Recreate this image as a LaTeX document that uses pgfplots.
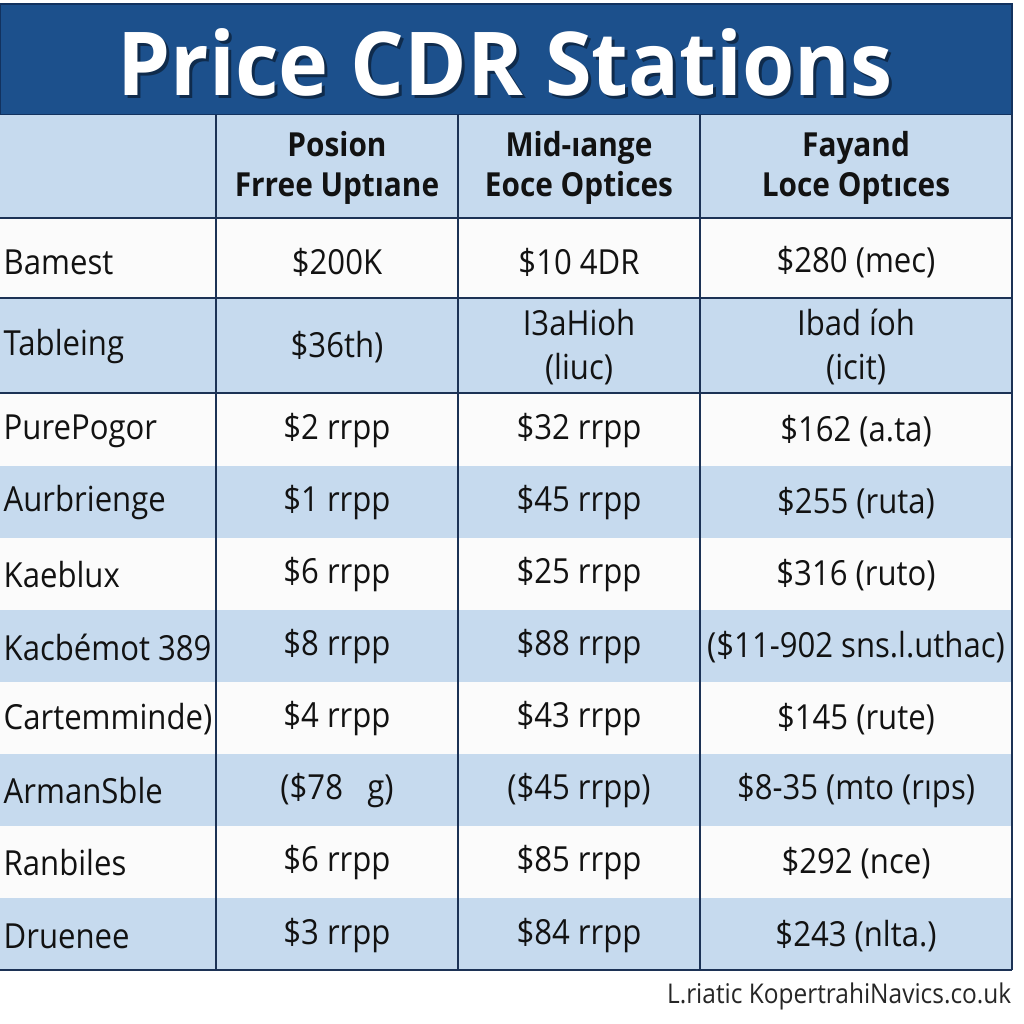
\documentclass[border=0pt]{standalone}
\usepackage{pgfplots}
\pgfplotsset{compat=1.18}
\usepackage{fontspec}
\setmainfont{Open Sans}[FakeStretch=0.9]
\newfontfamily\titlefont{Open Sans}[FakeStretch=0.96]
\definecolor{titlebg}{RGB}{28,80,140}
\definecolor{titleedge}{RGB}{18,50,95}
\definecolor{stripe}{RGB}{198,218,238}
\definecolor{rowwhite}{RGB}{251,251,251}
\definecolor{gridline}{RGB}{28,50,85}
\definecolor{txt}{RGB}{18,18,18}
\newcommand{\bodyfont}{\fontsize{9.6}{12.2}\selectfont}
\newcommand{\headfont}{\fontsize{9.2}{11.2}\selectfont\bfseries}
\begin{document}
\begin{tikzpicture}
\begin{axis}[scale only axis, width=10cm, height=10cm,
  xmin=0, xmax=1024, ymin=0, ymax=1024, y dir=reverse,
  hide axis, clip=false]
% page background
\addplot[fill=white, draw=none] coordinates {(0,0)(1024,0)(1024,1024)(0,1024)} -- cycle;
% title bar
\addplot[fill=titlebg, draw=titleedge, line width=0.8pt] coordinates {(0,4)(1012,4)(1012,115)(0,115)} -- cycle;
% header row
\addplot[fill=stripe, draw=none] coordinates {(0,115)(1012,115)(1012,218)(0,218)} -- cycle;
% body rows
\addplot[fill=rowwhite, draw=none] coordinates {(0,218)(1012,218)(1012,298)(0,298)} -- cycle;
\addplot[fill=stripe, draw=none] coordinates {(0,298)(1012,298)(1012,393)(0,393)} -- cycle;
\addplot[fill=rowwhite, draw=none] coordinates {(0,393)(1012,393)(1012,466)(0,466)} -- cycle;
\addplot[fill=stripe, draw=none] coordinates {(0,466)(1012,466)(1012,538)(0,538)} -- cycle;
\addplot[fill=rowwhite, draw=none] coordinates {(0,538)(1012,538)(1012,610)(0,610)} -- cycle;
\addplot[fill=stripe, draw=none] coordinates {(0,610)(1012,610)(1012,682)(0,682)} -- cycle;
\addplot[fill=rowwhite, draw=none] coordinates {(0,682)(1012,682)(1012,754)(0,754)} -- cycle;
\addplot[fill=stripe, draw=none] coordinates {(0,754)(1012,754)(1012,826)(0,826)} -- cycle;
\addplot[fill=rowwhite, draw=none] coordinates {(0,826)(1012,826)(1012,898)(0,898)} -- cycle;
\addplot[fill=stripe, draw=none] coordinates {(0,898)(1012,898)(1012,970)(0,970)} -- cycle;
% grid lines
\addplot[gridline, line width=0.7pt] coordinates {(0,218)(1012,218)};
\addplot[gridline, line width=0.7pt] coordinates {(0,298)(1012,298)};
\addplot[gridline, line width=0.7pt] coordinates {(0,393)(1012,393)};
\addplot[gridline, line width=0.8pt] coordinates {(0,970)(1012,970)};
\addplot[gridline, line width=0.7pt] coordinates {(216,115)(216,970)};
\addplot[gridline, line width=0.7pt] coordinates {(458,115)(458,970)};
\addplot[gridline, line width=0.7pt] coordinates {(700,115)(700,970)};
\addplot[gridline, line width=0.8pt] coordinates {(1012,115)(1012,970)};
% title
\node[text=black, opacity=0.45, font=\titlefont\fontsize{24.5}{28}\selectfont\bfseries] at (axis cs:508,65) {Price CDR Stations};
\node[text=white, font=\titlefont\fontsize{24.5}{28}\selectfont\bfseries] at (axis cs:505,62) {Price CDR Stations};
% header
\node[text=txt, font=\headfont, align=center] at (axis cs:337,168) {Posion\\Frree Uptıane};
\node[text=txt, font=\headfont, align=center] at (axis cs:579,168) {Mid-ıange\\Eoce Optices};
\node[text=txt, font=\headfont, align=center] at (axis cs:856,168) {Fayand\\Loce Optıces};
% rows: labels
\begin{scope}[every node/.style={text=txt, font=\bodyfont}]
\node[anchor=west, inner xsep=0pt] at (axis cs:3,262) {Bamest};
\node[anchor=west, inner xsep=0pt] at (axis cs:3,347) {Tableing};
\node[anchor=west, inner xsep=0pt] at (axis cs:3,431) {PurePogor};
\node[anchor=west, inner xsep=0pt] at (axis cs:3,503) {Aurbrienge};
\node[anchor=west, inner xsep=0pt] at (axis cs:3,575) {Kaeblux};
\node[anchor=west, inner xsep=0pt] at (axis cs:3,647) {Kacbémot 389};
\node[anchor=west, inner xsep=0pt] at (axis cs:3,719) {Cartemminde)};
\node[anchor=west, inner xsep=0pt] at (axis cs:3,791) {ArmanSble};
\node[anchor=west, inner xsep=0pt] at (axis cs:3,863) {Ranbiles};
\node[anchor=west, inner xsep=0pt] at (axis cs:3,936) {Druenee};
% column 2
\node at (axis cs:337,262) {\$200K};
\node at (axis cs:337,347) {\$36th)};
\node at (axis cs:337,431) {\$2 rrpp};
\node at (axis cs:337,503) {\$1 rrpp};
\node at (axis cs:337,575) {\$6 rrpp};
\node at (axis cs:337,647) {\$8 rrpp};
\node at (axis cs:337,719) {\$4 rrpp};
\node at (axis cs:337,791) {(\$78 \ \ g)};
\node at (axis cs:337,863) {\$6 rrpp};
\node at (axis cs:337,936) {\$3 rrpp};
% column 3
\node at (axis cs:579,262) {\$10 4DR};
\node[align=center] at (axis cs:579,347) {I3aHioh\\(liuc)};
\node at (axis cs:579,431) {\$32 rrpp};
\node at (axis cs:579,503) {\$45 rrpp};
\node at (axis cs:579,575) {\$25 rrpp};
\node at (axis cs:579,647) {\$88 rrpp};
\node at (axis cs:579,719) {\$43 rrpp};
\node at (axis cs:579,791) {(\$45 rrpp)};
\node at (axis cs:579,863) {\$85 rrpp};
\node at (axis cs:579,936) {\$84 rrpp};
% column 4
\node at (axis cs:856,262) {\$280 (mec)};
\node[align=center] at (axis cs:856,347) {Ibad íoh\\(icit)};
\node at (axis cs:856,431) {\$162 (a.ta)};
\node at (axis cs:856,503) {\$255 (ruta)};
\node at (axis cs:856,575) {\$316 (ruto)};
\node at (axis cs:856,647) {(\$11-902 sns.l.uthac)};
\node at (axis cs:856,719) {\$145 (rute)};
\node at (axis cs:856,791) {\$8-35 (mto (rıps)};
\node at (axis cs:856,863) {\$292 (nce)};
\node at (axis cs:856,936) {\$243 (nlta.)};
\end{scope}
% footer
\node[anchor=east, inner xsep=0pt, text=black!85, font=\fontsize{7.55}{9}\selectfont] at (axis cs:1012,996) {L.riatic KopertrahiNavics.co.uk};
\end{axis}
\pgfresetboundingbox
\path (current axis.south west) rectangle (current axis.north east);
\end{tikzpicture}
\end{document}
